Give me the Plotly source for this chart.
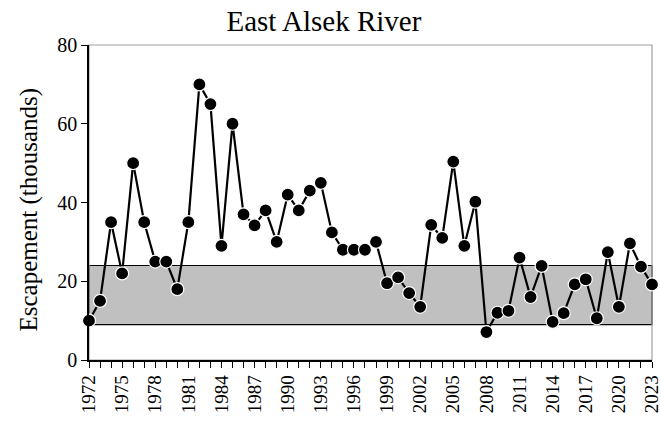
import plotly.graph_objects as go

# escapement in thousands
years = list(range(1972, 2024))
escapement = [
    10, 15, 35, 22, 50, 35, 25, 25, 18, 35,
    70, 65, 29, 60, 37, 34.2, 38, 30, 42, 38,
    43, 45, 32.4, 28, 28, 28, 30, 19.5, 21, 17,
    13.5, 34.3, 31, 50.4, 29, 40.2, 7.1, 12, 12.5, 26,
    16, 23.9, 9.7, 11.9, 19.2, 20.5, 10.6, 27.4, 13.5, 29.6,
    23.7, 19.2,
]
goal_low = 9
goal_high = 24
tick_years = list(range(1972, 2024, 3))

font = "Liberation Serif"

fig = go.Figure()

# escapement goal band
fig.add_shape(type="rect", xref="paper", x0=0, x1=1, y0=goal_low, y1=goal_high,
              fillcolor="#c0c0c0", line=dict(color="black", width=1.2), layer="below")
# grey frame on top/right
fig.add_shape(type="rect", xref="paper", yref="paper", x0=0, x1=1, y0=0, y1=1,
              line=dict(color="#a0a0a0", width=1.2), layer="below")

fig.add_trace(go.Scatter(
    x=years, y=escapement, mode="lines+markers",
    line=dict(color="black", width=2.2),
    marker=dict(color="black", size=13, line=dict(color="white", width=1.2)),
    cliponaxis=False, showlegend=False,
))

# y axis title as an annotation so it sits where the reference has it
fig.add_annotation(text="Escapement (thousands)", textangle=-90,
                   xref="paper", yref="paper", x=0, y=0.5, xanchor="center", yanchor="middle",
                   xshift=-61, yshift=-7, showarrow=False,
                   font=dict(family=font, size=25, color="black"))

fig.update_layout(
    width=661, height=422,
    margin=dict(l=89, r=9, t=45, b=62),
    paper_bgcolor="white", plot_bgcolor="white",
    font=dict(family=font, size=19, color="black"),
    title=dict(text="East Alsek River", xref="container", x=0.49, xanchor="center",
               yref="container", y=0.95, yanchor="middle",
               font=dict(family=font, size=29, color="black")),
)
fig.update_xaxes(
    range=[1972, 2023], tickmode="array", tickvals=tick_years,
    ticktext=[str(y) for y in tick_years], tickangle=-90,
    ticks="outside", ticklen=6, tickcolor="black", tickwidth=1,
    minor=dict(dtick=1, tick0=1972, ticks="outside", ticklen=6, tickcolor="black", tickwidth=1),
    showline=True, linecolor="black", linewidth=1.5,
    showgrid=False, zeroline=False, automargin=False,
    ticklabeloverflow="allow",
    tickfont=dict(family=font, size=19),
)
fig.update_yaxes(
    range=[0, 80], tickvals=[0, 20, 40, 60, 80],
    ticks="outside", ticklen=6, tickcolor="black",
    showline=True, linecolor="black", linewidth=1.5,
    showgrid=False, zeroline=False, automargin=False,
    tickfont=dict(family=font, size=20),
)

# drop the default body margin so the figure fills the window exactly
fig.write_html("out.html", config={"displayModeBar": False},
               post_script="document.body.style.margin='0';")
